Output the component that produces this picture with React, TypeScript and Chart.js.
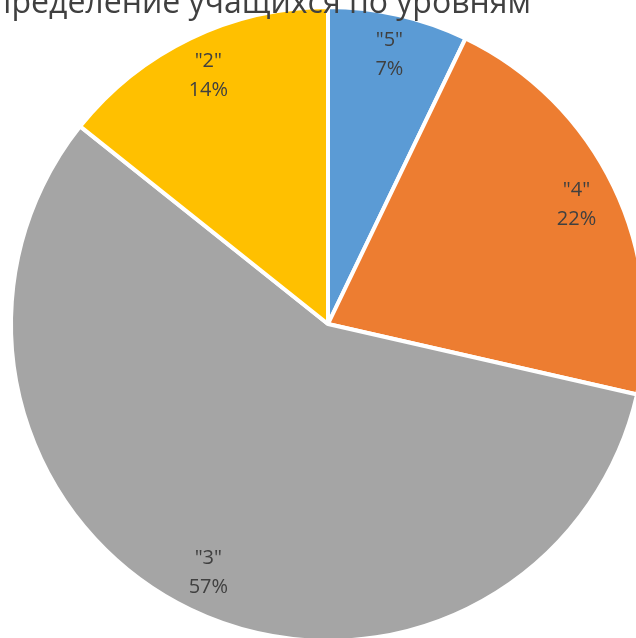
import React, { useEffect, useRef } from "react";
import { Chart, registerables } from "chart.js";

Chart.register(...registerables);

const categories = ['"5"', '"4"', '"3"', '"2"'];
const counts = [1, 3, 8, 2];
const percentLabels = ["7%", "22%", "57%", "14%"];
const colors = ["#5B9BD5", "#ED7D31", "#A5A5A5", "#FFC000"];
const titleText = "Распределение учащихся по уровням";

const labelPlugin = {
  id: "sliceLabels",
  afterDatasetsDraw(chart: any) {
    const ctx = chart.ctx;
    const meta = chart.getDatasetMeta(0);
    ctx.save();
    ctx.fillStyle = "#404040";
    ctx.font = "20px 'Open Sans'";
    ctx.textAlign = "center";
    ctx.textBaseline = "middle";
    meta.data.forEach((arc: any, i: number) => {
      const { x, y, startAngle, endAngle, outerRadius } = arc.getProps(
        ["x", "y", "startAngle", "endAngle", "outerRadius"],
        true
      );
      const mid = (startAngle + endAngle) / 2;
      const r = outerRadius * 0.87;
      const cx = x + Math.cos(mid) * r;
      const cy = y + Math.sin(mid) * r;
      ctx.fillText(categories[i], cx, cy - 14.5);
      ctx.fillText(percentLabels[i], cx, cy + 14.5);
    });
    ctx.restore();
  },
};

const titlePlugin = {
  id: "topTitle",
  afterDraw(chart: any) {
    const ctx = chart.ctx;
    ctx.save();
    ctx.fillStyle = "#404040";
    ctx.font = "32px 'Open Sans'";
    ctx.textAlign = "right";
    ctx.textBaseline = "alphabetic";
    ctx.fillText(titleText, 531, 13);
    ctx.restore();
  },
};

export default function App() {
  const ref = useRef<HTMLCanvasElement | null>(null);
  useEffect(() => {
    if (!ref.current) return;
    const chart = new Chart(ref.current, {
      type: "pie",
      data: {
        labels: categories,
        datasets: [
          {
            data: counts,
            backgroundColor: colors,
            borderColor: "#ffffff",
            borderWidth: 4,
          },
        ],
      },
      options: {
        responsive: false,
        animation: false,
        layout: { padding: { left: 9, top: 5, right: 53, bottom: 57 } },
        plugins: {
          legend: { display: false },
          title: { display: false },
          tooltip: { enabled: false },
        },
      },
      plugins: [labelPlugin, titlePlugin],
    });
    return () => chart.destroy();
  }, []);
  return (
    <div
      style={{
        position: "fixed",
        left: 0,
        top: 0,
        width: 636,
        height: 638,
        overflow: "hidden",
        background: "#ffffff",
      }}
    >
      <canvas ref={ref} width={700} height={700} style={{ display: "block" }} />
    </div>
  );
}
